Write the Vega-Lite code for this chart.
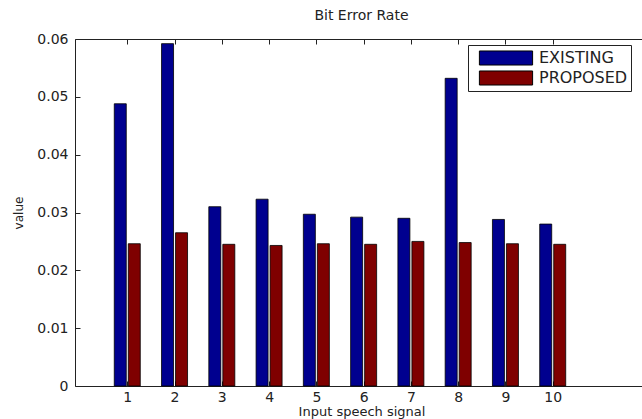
{
  "$schema": "https://vega.github.io/schema/vega-lite/v6.json",
  "width": 573,
  "height": 347,
  "autosize": {"type": "none"},
  "padding": {"left": 75, "top": 39, "right": 0, "bottom": 33},
  "background": "white",
  "config": {
    "view": {"stroke": "#222", "strokeWidth": 1},
    "font": "DejaVu Sans",
    "axis": {"grid": false, "domain": false, "tickColor": "#222", "labelColor": "#222", "titleColor": "#222", "labelFont": "DejaVu Sans", "titleFont": "DejaVu Sans", "titleFontWeight": "normal"}
  },
  "title": {"text": "Bit Error Rate", "font": "DejaVu Sans", "fontSize": 14, "fontWeight": "normal", "color": "#222", "offset": 9},
  "datasets": {
    "bars": [
      {"signal": 1, "series": "EXISTING", "value": 0.0488},
      {"signal": 2, "series": "EXISTING", "value": 0.0592},
      {"signal": 3, "series": "EXISTING", "value": 0.0310},
      {"signal": 4, "series": "EXISTING", "value": 0.0323},
      {"signal": 5, "series": "EXISTING", "value": 0.0297},
      {"signal": 6, "series": "EXISTING", "value": 0.0292},
      {"signal": 7, "series": "EXISTING", "value": 0.0290},
      {"signal": 8, "series": "EXISTING", "value": 0.0532},
      {"signal": 9, "series": "EXISTING", "value": 0.0288},
      {"signal": 10, "series": "EXISTING", "value": 0.0280},
      {"signal": 1, "series": "PROPOSED", "value": 0.0246},
      {"signal": 2, "series": "PROPOSED", "value": 0.0265},
      {"signal": 3, "series": "PROPOSED", "value": 0.0245},
      {"signal": 4, "series": "PROPOSED", "value": 0.0243},
      {"signal": 5, "series": "PROPOSED", "value": 0.0246},
      {"signal": 6, "series": "PROPOSED", "value": 0.0245},
      {"signal": 7, "series": "PROPOSED", "value": 0.0250},
      {"signal": 8, "series": "PROPOSED", "value": 0.0248},
      {"signal": 9, "series": "PROPOSED", "value": 0.0246},
      {"signal": 10, "series": "PROPOSED", "value": 0.0245}
    ]
  },
  "data": {"name": "bars"},
  "encoding": {
    "y": {
      "field": "value", "type": "quantitative",
      "scale": {"domain": [0, 0.06], "nice": false},
      "axis": {"values": [0, 0.01, 0.02, 0.03, 0.04, 0.05, 0.06], "format": ".2~f", "offset": -5, "tickSize": 5, "labelPadding": 7, "labelFontSize": 14, "title": "value", "titleFontSize": 12, "titlePadding": 11}
    },
    "color": {
      "field": "series", "type": "nominal",
      "scale": {"domain": ["EXISTING", "PROPOSED"], "range": ["#00008f", "#7f0000"]},
      "legend": {
        "title": null, "orient": "none", "legendX": 393, "legendY": 6,
        "symbolType": "M-2.8,-0.74H2.8V0.74H-2.8Z", "symbolSize": 361, "symbolStrokeColor": "#000", "symbolStrokeWidth": 1, "symbolOpacity": 1,
        "symbolOffset": 25,
        "labelFont": "DejaVu Sans", "labelFontSize": 16, "labelColor": "#222", "labelOffset": 23,
        "rowPadding": 0, "padding": 3, "strokeColor": "#222", "fillColor": "white", "cornerRadius": 0
      }
    }
  },
  "resolve": {"axis": {"x": "independent"}},
  "layer": [
    {
      "transform": [{"filter": "datum.series === 'EXISTING'"}],
      "mark": {"type": "bar", "width": 12, "xOffset": -7, "stroke": "#000", "strokeWidth": 0.8},
      "encoding": {
        "x": {
          "field": "signal", "type": "quantitative",
          "scale": {"domain": [0, 11.91], "nice": false, "zero": false},
          "axis": {"orient": "bottom", "values": [1, 2, 3, 4, 5, 6, 7, 8, 9, 10], "offset": -5, "tickSize": 5, "labelPadding": 4, "labelFontSize": 14, "labelFlush": false, "title": "Input speech signal", "titleFontSize": 13, "titlePadding": 1}
        }
      }
    },
    {
      "transform": [{"filter": "datum.series === 'PROPOSED'"}],
      "mark": {"type": "bar", "width": 12, "xOffset": 7, "stroke": "#000", "strokeWidth": 0.8},
      "encoding": {
        "x": {"field": "signal", "type": "quantitative", "axis": {"orient": "top", "values": [1, 2, 3, 4, 5, 6, 7, 8, 9, 10], "labels": false, "offset": -5, "tickSize": 5, "title": null}}
      }
    }
  ]
}
